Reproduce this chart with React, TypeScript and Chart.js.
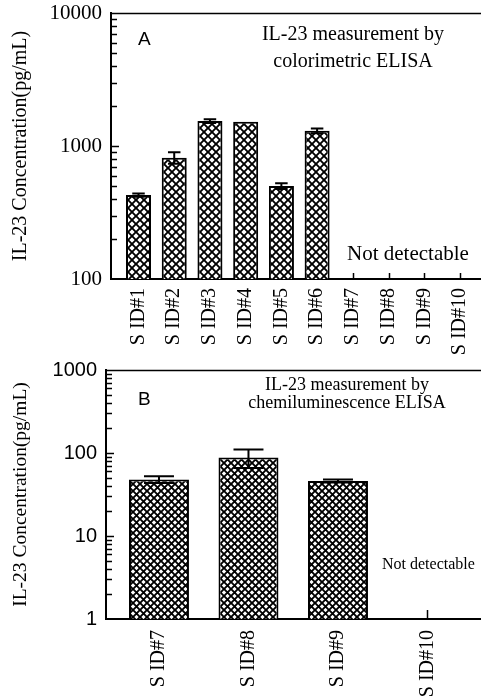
import React, { useEffect, useRef } from 'react';
import { Chart, registerables } from 'chart.js';

Chart.register(...registerables);

// ---------- Data ----------
const labelsA = ['S ID#1', 'S ID#2', 'S ID#3', 'S ID#4', 'S ID#5', 'S ID#6', 'S ID#7', 'S ID#8', 'S ID#9', 'S ID#10'];
const valuesA: (number | null)[] = [428, 817, 1540, 1520, 500, 1300, null, null, null, null];
const errorsA: (number | null)[] = [12, 80, 50, 0, 25, 55, null, null, null, null];
const yTicksA = [100, 1000, 10000];

const labelsB = ['S ID#7', 'S ID#8', 'S ID#9', 'S ID#10'];
const valuesB: (number | null)[] = [48, 88, 46, null];
const errorsB: (number | null)[] = [4.5, 22, 2, null];
const yTicksB = [1, 10, 100, 1000];

const yTitle = 'IL-23 Concentration(pg/mL)';
const titleA = ['IL-23 measurement by', 'colorimetric ELISA'];
const titleB = ['IL-23 measurement by', 'chemiluminescence ELISA'];
const notDetectable = 'Not detectable';

const SERIF = '"Liberation Serif", "Times New Roman", serif';
const SANS = '"Liberation Sans", Arial, sans-serif';

type PanelProps = {
  top: number;
  height: number;
  labels: string[];
  values: (number | null)[];
  errors: (number | null)[];
  yTicks: number[];
  xMin: number;
  xMax: number;
  yAxisWidth: number;
  xAxisHeight: number;
  padTop: number;
  tickFont: string;
  tickSize: number;
  xLabelPad: number;
  hatch: number;
  barPct: number;
  xTickLen: number;
  letter: string;
  titleLines: string[];
  titleSize: number;
  titleDx: number;
  titleDy: number[];
  letterDx: number;
  letterDy: number;
  ndX: number;
  ndY: number;
  ndSize: number;
  yTitleSize: number;
};

function makeHatch(ctx: CanvasRenderingContext2D, s: number, lw: number) {
  const tile = document.createElement('canvas');
  tile.width = s;
  tile.height = s;
  const g = tile.getContext('2d')!;
  g.fillStyle = '#fff';
  g.fillRect(0, 0, s, s);
  g.strokeStyle = '#000';
  g.lineWidth = lw;
  g.beginPath();
  g.moveTo(-2, -2);
  g.lineTo(s + 2, s + 2);
  g.moveTo(s + 2, -2);
  g.lineTo(-2, s + 2);
  g.stroke();
  return ctx.createPattern(tile, 'repeat')!;
}

function Panel(p: PanelProps) {
  const ref = useRef<HTMLCanvasElement | null>(null);

  useEffect(() => {
    const canvas = ref.current!;
    const ctx = canvas.getContext('2d')!;
    const pattern = makeHatch(ctx, p.hatch, 1.9);

    const decor = {
      id: 'decor',
      beforeDatasetsDraw(chart: any) {
        const { ctx: c, chartArea: ca, scales } = chart;
        const x = scales.x;
        const y = scales.y;
        c.save();
        c.strokeStyle = '#000';
        c.lineWidth = 1.5;
        for (let d = y.min; d < y.max * 0.999; d *= 10) {
          for (let k = 1; k < 10; k++) {
            const v = d * k;
            if (v <= y.min * 1.0001) continue;
            const py = Math.round(y.getPixelForValue(v)) + 0.5;
            const len = k === 1 ? 8 : 6;
            c.beginPath();
            c.moveTo(ca.left, py);
            c.lineTo(ca.left + len, py);
            c.stroke();
          }
        }
        p.labels.forEach((_, i) => {
          const px = Math.round(x.getPixelForValue(i + 1)) + 0.5;
          c.beginPath();
          c.moveTo(px, ca.bottom);
          c.lineTo(px, ca.bottom - p.xTickLen);
          c.stroke();
        });
        c.beginPath();
        c.moveTo(ca.left, ca.top + 0.5);
        c.lineTo(ca.right, ca.top + 0.5);
        c.stroke();
        c.restore();
      },
      afterDatasetsDraw(chart: any) {
        const { ctx: c, chartArea: ca, scales } = chart;
        const y = scales.y;
        const meta = chart.getDatasetMeta(0);
        c.save();
        c.strokeStyle = '#000';
        c.lineWidth = 2;
        p.values.forEach((v, i) => {
          const e = p.errors[i];
          if (v == null || !e) return;
          const el = meta.data[i];
          const cx = el.x;
          const half = el.width / 4;
          const yHi = y.getPixelForValue(v + e);
          const yLo = y.getPixelForValue(v - e);
          c.beginPath();
          c.moveTo(cx, yHi);
          c.lineTo(cx, yLo);
          c.moveTo(cx - half, yHi);
          c.lineTo(cx + half, yHi);
          c.moveTo(cx - half, yLo);
          c.lineTo(cx + half, yLo);
          c.stroke();
        });
        c.fillStyle = '#000';
        c.textBaseline = 'middle';
        c.textAlign = 'left';
        c.font = `19px ${SANS}`;
        c.fillText(p.letter, ca.left + p.letterDx, ca.top + p.letterDy);
        c.textAlign = 'center';
        c.font = `${p.titleSize}px ${SERIF}`;
        p.titleLines.forEach((t, i) => {
          c.fillText(t, ca.left + p.titleDx, ca.top + p.titleDy[i]);
        });
        c.textAlign = 'left';
        c.font = `${p.ndSize}px ${SERIF}`;
        c.fillText(notDetectable, ca.left + p.ndX, ca.bottom - p.ndY);
        c.restore();
      },
    };

    const zeroPad = (s: any) => {
      s.paddingLeft = 0;
      s.paddingRight = 0;
      s.paddingTop = 0;
      s.paddingBottom = 0;
    };

    const chart = new Chart(ctx, {
      type: 'bar',
      data: {
        datasets: [
          {
            data: p.values.map((v, i) => ({ x: i + 1, y: v })) as any,
            backgroundColor: pattern as any,
            borderColor: '#000',
            borderWidth: 2,
            categoryPercentage: 1,
            barPercentage: p.barPct,
          },
        ],
      },
      options: {
        animation: false,
        responsive: false,
        layout: { padding: { top: p.padTop, left: 0, right: 0, bottom: 0 } },
        plugins: { legend: { display: false }, tooltip: { enabled: false } },
        scales: {
          x: {
            type: 'linear',
            offset: false,
            min: p.xMin,
            max: p.xMax,
            grid: { display: false, drawTicks: false, offset: false },
            border: { display: true, color: '#000', width: 2 },
            afterBuildTicks: (s: any) => {
              s.ticks = p.labels.map((_, i) => ({ value: i + 1 }));
            },
            afterFit: (s: any) => {
              s.height = p.xAxisHeight;
              zeroPad(s);
            },
            ticks: {
              autoSkip: false,
              maxRotation: 90,
              minRotation: 90,
              padding: p.xLabelPad,
              color: '#000',
              font: { family: SERIF, size: 20 },
              callback: (v: any) => p.labels[Math.round(Number(v)) - 1] ?? '',
            },
          },
          y: {
            type: 'logarithmic',
            min: p.yTicks[0],
            max: p.yTicks[p.yTicks.length - 1],
            grid: { display: false, drawTicks: false },
            border: { display: true, color: '#000', width: 2 },
            afterBuildTicks: (s: any) => {
              s.ticks = p.yTicks.map((v) => ({ value: v, major: true }));
            },
            afterFit: (s: any) => {
              s.width = p.yAxisWidth;
              zeroPad(s);
            },
            ticks: {
              padding: 9,
              color: '#000',
              font: { family: p.tickFont, size: p.tickSize },
              callback: (v: any) => String(v),
            },
            title: {
              display: true,
              text: yTitle,
              color: '#000',
              font: { family: SERIF, size: p.yTitleSize },
              padding: { top: 9, bottom: 0 },
            },
          },
        },
      },
      plugins: [decor],
    });
    return () => chart.destroy();
  }, []);

  return (
    <canvas
      ref={ref}
      width={481}
      height={p.height}
      style={{ position: 'absolute', left: 0, top: p.top, width: 481, height: p.height }}
    />
  );
}

export default function App() {
  return (
    <div style={{ position: 'absolute', left: 0, top: 0, width: 481, height: 700, background: '#fff', overflow: 'hidden' }}>
      <Panel
        top={0}
        height={366}
        labels={labelsA}
        values={valuesA}
        errors={errorsA}
        yTicks={yTicksA}
        xMin={0.23}
        xMax={10.588}
        yAxisWidth={111}
        xAxisHeight={366 - 279}
        padTop={13}
        tickFont={SERIF}
        tickSize={21}
        xLabelPad={9}
        hatch={8}
        barPct={0.7}
        xTickLen={6}
        letter="A"
        titleLines={titleA}
        titleSize={20}
        titleDx={242}
        titleDy={[22, 49]}
        letterDx={27}
        letterDy={27}
        ndX={236}
        ndY={25}
        ndSize={21}
        yTitleSize={20}
      />
      <Panel
        top={358}
        height={342}
        labels={labelsB}
        values={valuesB}
        errors={errorsB}
        yTicks={yTicksB}
        xMin={0.408}
        xMax={4.598}
        yAxisWidth={106}
        xAxisHeight={342 - 261}
        padTop={12}
        tickFont={SANS}
        tickSize={20}
        xLabelPad={11}
        hatch={7}
        barPct={0.67}
        xTickLen={9}
        letter="B"
        titleLines={titleB}
        titleSize={18}
        titleDx={241}
        titleDy={[15, 33]}
        letterDx={32}
        letterDy={30}
        ndX={276}
        ndY={54}
        ndSize={16}
        yTitleSize={19.5}
      />
    </div>
  );
}
